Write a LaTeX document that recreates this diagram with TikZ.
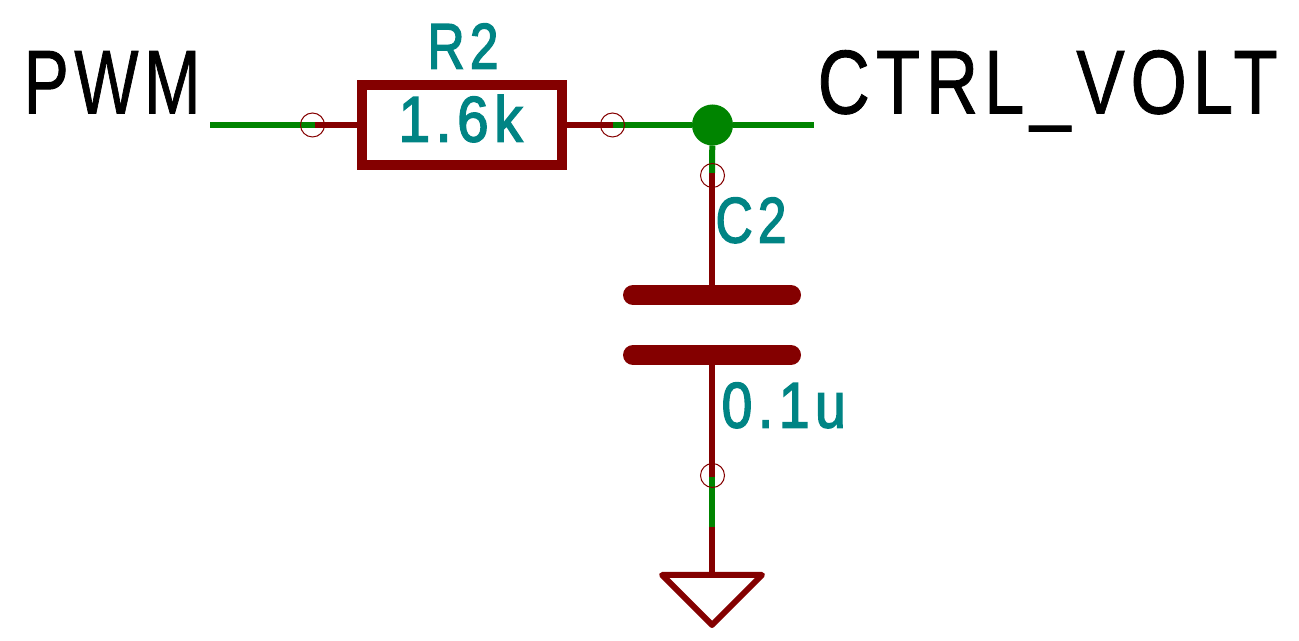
\documentclass[tikz,border=0pt]{standalone}
\usepackage{xcolor}
\usepackage{fontspec}
\setmainfont{Liberation Sans}
\newfontfamily\netfont[LetterSpace=8,FakeBold=1]{Liberation Sans}
\newfontfamily\valfont[LetterSpace=10,FakeBold=2.5]{Liberation Sans}
\usetikzlibrary{calc,positioning}
\definecolor{kcWire}{RGB}{0,132,0}
\definecolor{kcBody}{RGB}{132,0,0}
\definecolor{kcText}{RGB}{0,132,132}

\begin{document}
\begin{tikzpicture}[
  wire/.style={draw=kcWire,line width=0.06cm},
  pinline/.style={draw=kcBody,line width=0.06cm},
  plate/.style={draw=kcBody,line width=0.2cm,line cap=round},
  pinmark/.style={circle,draw=kcBody,line width=0.01cm,minimum size=0.24cm,inner sep=0pt,outer sep=0pt},
  dotnode/.style={circle,fill=kcWire,minimum size=0.41cm,inner sep=0pt,outer sep=0pt},
  netlabel/.style={transform shape,anchor=base west,inner sep=0pt,text=black,font=\netfont\fontsize{25.8}{28}\selectfont},
  reflabel/.style={transform shape,anchor=base west,inner sep=0pt,text=kcText,font=\valfont\fontsize{18.3}{20}\selectfont}
]
\useasboundingbox (0,0) rectangle (12.99,6.41);

% anchors
\coordinate (PWMend)  at (2.10,5.16);
\coordinate (CTRLend) at (8.14,5.16);
\coordinate (pinRa)   at (3.15,5.16);
\coordinate (pinRb)   at (6.13,5.16);
\coordinate (pinCa)   at (7.12,4.68);
\coordinate (pinCb)   at (7.12,1.64);
\coordinate (gndTop)  at (7.12,1.14);
\coordinate (plateA)  at (7.12,3.46);
\coordinate (plateB)  at (7.12,2.86);
\coordinate (gndIn)   at (7.12,0.66);
\coordinate (gndTip)  at (7.12,0.16);

% resistor
\node[draw=kcBody,line width=0.1cm,minimum width=2cm,minimum height=0.8cm,inner sep=0pt,outer sep=0pt] (R2) at (4.62,5.16) {};
\node[dotnode] (J1) at (7.125,5.16) {};

% wires
\draw[wire] (PWMend) -- (pinRa);
\draw[pinline] (pinRa) -- (R2.west);
\draw[pinline] (R2.east) -- (pinRb);
\draw[wire] (pinRb) -- (J1);
\draw[wire] (J1) -- (CTRLend);
\draw[wire] (J1) -- (pinCa);
\draw[pinline] (pinCa) -- (plateA);
\draw[pinline] (plateB) -- (pinCb);
\draw[wire] (pinCb) -- (gndTop);
\draw[pinline] (gndTop) -- (gndIn);

% capacitor
\draw[plate] ($(plateA)+(-0.79,0)$) -- ($(plateA)+(0.79,0)$);
\draw[plate] ($(plateB)+(-0.79,0)$) -- ($(plateB)+(0.79,0)$);

% ground
\draw[pinline,line join=round] ($(gndIn)+(-0.5,0)$) -- ($(gndIn)+(0.5,0)$) -- (gndTip) -- cycle;

% pin marks
\node[pinmark] (mRa) at (3.125,5.16) {};
\node[pinmark] (mRb) at (6.125,5.16) {};
\node[pinmark] (mCa) at (7.125,4.655) {};
\node[pinmark] (mCb) at (7.125,1.655) {};

% labels
\node[netlabel,xscale=0.75] (PWM) at (0.23,5.275) {PWM};
\node[netlabel,xscale=0.80] (CTRL) at (8.17,5.275) {CTRL\_VOLT};
\node[reflabel,xscale=0.8] (R2ref) at (4.27,5.725) {R2};
\node[reflabel,xscale=0.88] (R2val) at (3.98,4.995) {1.6k};
\node[reflabel,xscale=0.8] (C2ref) at (7.15,3.985) {C2};
\node[reflabel,xscale=0.86] (C2val) at (7.21,2.135) {0.1u};
\end{tikzpicture}
\end{document}
